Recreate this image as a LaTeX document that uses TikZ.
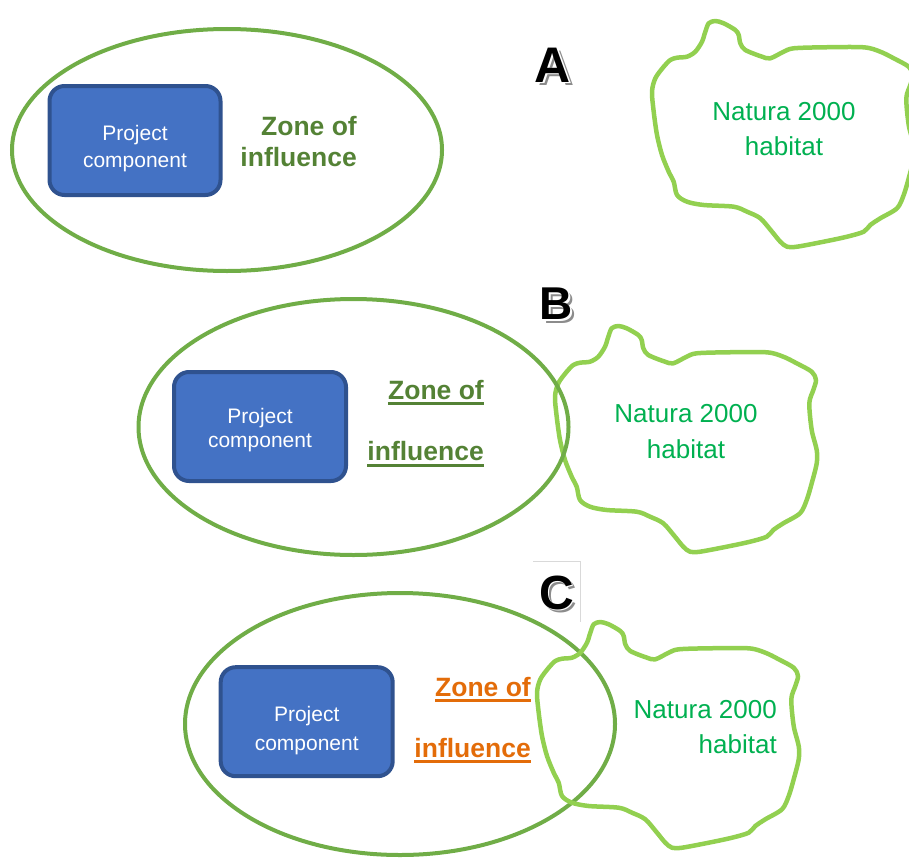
\documentclass[tikz,border=0pt]{standalone}
\usepackage{fontspec}
\setmainfont{Liberation Sans}
\definecolor{zonering}{HTML}{70AD47}
\definecolor{zonelabel}{HTML}{548235}
\definecolor{zonewarn}{HTML}{E36C09}
\definecolor{habline}{HTML}{92D050}
\definecolor{habtext}{HTML}{00B050}
\definecolor{boxfill}{HTML}{4472C4}
\definecolor{boxedge}{HTML}{2F528F}
\definecolor{lettershade}{HTML}{8C8C8C}
\definecolor{framegray}{HTML}{D9D9D9}

% bold panel letter with a white rim and a grey drop shadow
\newcommand\panelletter[1]{%
  \makebox[0pt][l]{\hspace{3.5pt}\raisebox{-3.5pt}{\color{lettershade}#1}}%
  \makebox[0pt][l]{\hspace{1.6pt}\raisebox{-1.6pt}{\color{white}#1}}%
  \makebox[0pt][l]{\hspace{0.8pt}\raisebox{-0.8pt}{\color{white}#1}}%
  #1}

% outline of the protected habitat, drawn once per panel with a shift
\newcommand\habitatoutline{plot[smooth cycle, tension=0.5] coordinates {
  (611.7,328.3) (618.3,326) (626.7,328.3) (638.3,335) (641.7,340) (643.3,348.3)
  (648.3,355) (665,361.7) (673.3,363.3) (686.7,356.7) (696.7,353.3) (726.7,352.3)
  (766.7,352.3) (783.3,356.7) (796.7,363.3) (811.7,371.7) (816,380) (813.3,390)
  (809.3,403.3) (811.7,430) (816.7,450) (816.7,463.3) (811.7,483.3) (806.7,500)
  (800,513.3) (783.3,523.3) (773.3,530) (766.7,536.7) (750,541.7) (726.7,546.7)
  (700,551.7) (690,551.7) (683.3,546.7) (675,536.7) (663.3,523.3) (650,516.7)
  (636.7,511.7) (606.7,510) (590,506.7) (580,500) (576.7,486.7) (571.7,476.7)
  (565,460) (560,440) (556.7,416.7) (555,396.7) (558.3,383.3) (566.7,371.7)
  (573.3,365) (580,362.7) (590,361.7) (598.3,356.7) (605,346.7) (608.3,336.7)}}

\begin{document}
\begin{tikzpicture}[x=1pt, y=-1pt,
  zonering/.style={draw=zonering, line width=4pt},
  habitat/.style={draw=habline, line width=4.5pt, line join=round},
  compbox/.style={draw=boxedge, fill=boxfill, line width=4pt, rounded corners=15pt},
  comptext/.style={text=white, font=\fontsize{21}{24}\selectfont, inner sep=0pt, anchor=base},
  zonetext/.style={font=\bfseries\fontsize{26.5}{30}\selectfont, inner sep=0pt, anchor=base east},
  natext/.style={text=habtext, font=\fontsize{26}{30}\selectfont, inner sep=0pt, anchor=base},
  letter/.style={font=\bfseries\fontsize{#1}{#1}\selectfont, inner sep=0pt, anchor=base},
  uline/.style={line width=2.7pt}
]
\useasboundingbox (0,0) rectangle (909,859);
\clip (0,0) rectangle (909,859);

% ---------- panel A ----------
\draw[habitat, shift={(97,-305)}] \habitatoutline;
\draw[zonering] (227,150) ellipse [x radius=215pt, y radius=121pt];
\node[compbox, minimum width=171pt, minimum height=109pt] (boxA) at (135,140.5) {};
\node[comptext] (pA1) at (135,140) {Project};
\node[comptext] (pA2) at (135,167) {component};
\node[zonetext, text=zonelabel] (zA1) at (357,135) {Zone of};
\node[zonetext, text=zonelabel] (zA2) at (357,166) {influence};
\node[natext] (nA1) at (784,120) {Natura 2000};
\node[natext] (nA2) at (784,155) {habitat};
\node[letter=50] (letA) at (553,82) {\panelletter{A}};

% ---------- panel B ----------
\draw[habitat] \habitatoutline;
\draw[zonering] (353.5,427) ellipse [x radius=215pt, y radius=128pt];
\node[compbox, minimum width=172pt, minimum height=109pt] (boxB) at (260,426.5) {};
\node[comptext] (pB1) at (260,423.3) {Project};
\node[comptext] (pB2) at (260,447.3) {component};
\node[zonetext, text=zonelabel] (zB1) at (484,399.3) {Zone of};
\node[zonetext, text=zonelabel] (zB2) at (484,460.7) {influence};
\draw[uline, zonelabel] ([yshift=-4.5pt]zB1.base west) -- ([yshift=-4.5pt]zB1.base east);
\draw[uline, zonelabel] ([yshift=-5pt]zB2.base west) -- ([yshift=-5pt]zB2.base east);
\node[natext] (nB1) at (686,422.3) {Natura 2000};
\node[natext] (nB2) at (686,458.3) {habitat};
\node[letter=46] (letB) at (556.5,319.5) {\panelletter{B}};

% ---------- panel C ----------
\draw[zonering] (400,724) ellipse [x radius=215pt, y radius=131pt];
\draw[habitat, shift={(-18,296)}] \habitatoutline;
\node[compbox, minimum width=172pt, minimum height=109pt] (boxC) at (306.7,721.7) {};
\node[comptext] (pC1) at (306.7,721.7) {Project};
\node[comptext] (pC2) at (306.7,750) {component};
\node[zonetext, text=zonewarn] (zC1) at (531,696.5) {Zone of};
\node[zonetext, text=zonewarn] (zC2) at (531,757) {influence};
\draw[uline, zonewarn] ([yshift=-4pt]zC1.base west) -- ([yshift=-4pt]zC1.base east);
\draw[uline, zonewarn] ([yshift=-4.5pt]zC2.base west) -- ([yshift=-4.5pt]zC2.base east);
\node[natext, anchor=base east] (nC1) at (777,718.3) {Natura 2000};
\node[natext, anchor=base east] (nC2) at (777,753.3) {habitat};
\draw[framegray, line width=1pt] (533,561) -- (580,561) -- (580,622);
\node[letter=48] (letC) at (556.5,609) {\panelletter{C}};
\end{tikzpicture}
\end{document}
